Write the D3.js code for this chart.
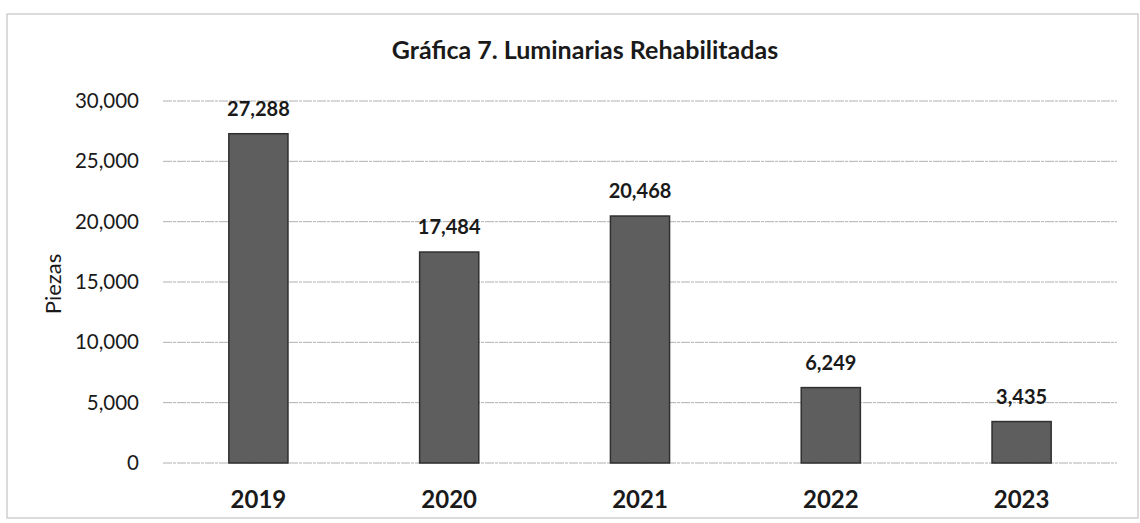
<!DOCTYPE html>
<html lang="es">
<head>
<meta charset="UTF-8" />
<title>Gráfica 7. Luminarias Rehabilitadas</title>
<script src="https://d3js.org/d3.v7.min.js"></script>
<style>
  body { margin: 0; background: #fff; }
  text { font-family: Lato, "Open Sans", sans-serif; fill: #1a1a1a; }
</style>
</head>
<body>
<div id="chart"></div>
<script>
const years = ["2019", "2020", "2021", "2022", "2023"];
const pieces = [27288, 17484, 20468, 6249, 3435];
const yTicks = [0, 5000, 10000, 15000, 20000, 25000, 30000];

const width = 1140, height = 523;
const margin = { top: 101, right: 23, bottom: 60, left: 163 };

const svg = d3.select("#chart").append("svg")
  .attr("width", width)
  .attr("height", height);

// outer frame
svg.append("rect")
  .attr("x", 7).attr("y", 14)
  .attr("width", 1131).attr("height", 504)
  .attr("fill", "none")
  .attr("stroke", "#c4c4c4")
  .attr("stroke-width", 1.2);

const x = d3.scaleBand()
  .domain(years)
  .range([margin.left, width - margin.right])
  .paddingInner(0.69)
  .paddingOuter(0.345);

const y = d3.scaleLinear()
  .domain([0, 30000])
  .range([height - margin.bottom, margin.top]);

// gridlines
svg.append("g")
  .selectAll("line")
  .data(yTicks)
  .join("line")
  .attr("x1", margin.left)
  .attr("x2", width - margin.right)
  .attr("y1", d => y(d))
  .attr("y2", d => y(d))
  .attr("stroke", "#b0b0b0")
  .attr("stroke-width", 1)
  .attr("stroke-dasharray", "9,1,3,1");

// y axis labels
const yAxis = svg.append("g")
  .attr("transform", `translate(${margin.left - 21},0)`)
  .call(d3.axisLeft(y).tickValues(yTicks).tickFormat(d3.format(",")).tickSize(0));
yAxis.select(".domain").remove();
yAxis.selectAll("text")
  .attr("font-size", 20.5)
  .attr("font-family", "Lato, 'Open Sans', sans-serif")
  .attr("fill", "#1a1a1a");

// bars
svg.append("g")
  .selectAll("rect")
  .data(pieces)
  .join("rect")
  .attr("x", (d, i) => x(years[i]))
  .attr("y", d => y(d))
  .attr("width", x.bandwidth())
  .attr("height", d => y(0) - y(d))
  .attr("fill", "#5e5e5e")
  .attr("stroke", "#303030")
  .attr("stroke-width", 1.5);

// value labels
svg.append("g")
  .selectAll("text")
  .data(pieces)
  .join("text")
  .attr("x", (d, i) => x(years[i]) + x.bandwidth() / 2)
  .attr("y", d => y(d) - 18)
  .attr("text-anchor", "middle")
  .attr("font-size", 20)
  .attr("font-weight", "bold")
  .text(d => d3.format(",")(d));

// category labels
const xAxis = svg.append("g")
  .attr("transform", `translate(0,${y(0) + 25})`)
  .call(d3.axisBottom(x).tickSize(0));
xAxis.select(".domain").remove();
xAxis.selectAll("text")
  .attr("font-size", 24)
  .attr("font-weight", "bold")
  .attr("font-family", "Lato, 'Open Sans', sans-serif")
  .attr("fill", "#1a1a1a");

// title
svg.append("text")
  .attr("x", 585)
  .attr("y", 59)
  .attr("text-anchor", "middle")
  .attr("font-size", 25)
  .attr("font-weight", "bold")
  .text("Gráfica 7. Luminarias Rehabilitadas");

// y axis title
svg.append("text")
  .attr("transform", `translate(61,${(y(0) + y(30000)) / 2 + 2}) rotate(-90)`)
  .attr("text-anchor", "middle")
  .attr("font-size", 22)
  .text("Piezas");
</script>
</body>
</html>
